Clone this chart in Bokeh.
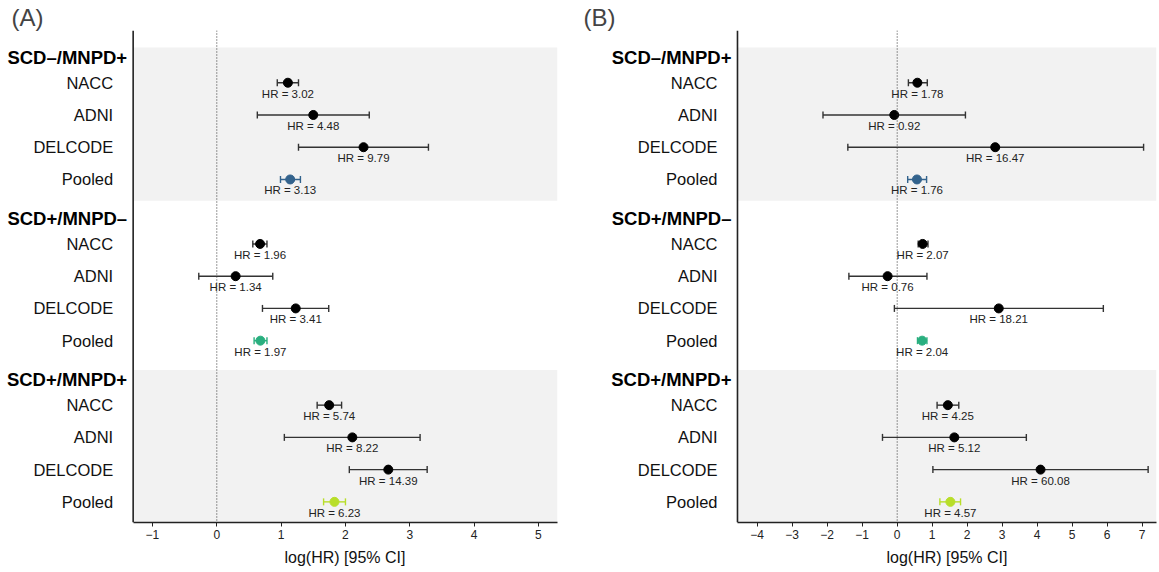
import math
from bokeh.plotting import figure
from bokeh.models import (Range1d, FixedTicker, CustomJSTickFormatter, BoxAnnotation,
                          Span, ColumnDataSource, Title)
from bokeh.layouts import row
from bokeh.embed import file_html
from bokeh.resources import INLINE
from bokeh.core.properties import value

FONT = "Liberation Sans"

groups = ["SCD–/MNPD+", "SCD+/MNPD–", "SCD+/MNPD+"]
cohorts = ["NACC", "ADNI", "DELCODE", "Pooled"]
pooled_colors = ["#33638D", "#29AF7F", "#B8DE29"]
x_title = "log(HR) [95% CI]"

# Panel A
a_hr = [3.02, 4.48, 9.79, 3.13, 1.96, 1.34, 3.41, 1.97, 5.74, 8.22, 14.39, 6.23]
a_est = [1.105, 1.500, 2.281, 1.141, 0.673, 0.293, 1.227, 0.678, 1.747, 2.107, 2.666, 1.829]
a_lo = [0.94, 0.63, 1.27, 0.99, 0.56, -0.28, 0.71, 0.58, 1.56, 1.05, 2.06, 1.66]
a_hi = [1.27, 2.37, 3.29, 1.30, 0.78, 0.87, 1.74, 0.78, 1.94, 3.16, 3.27, 2.00]
a_ticks = [-1, 0, 1, 2, 3, 4, 5]

# Panel B
b_hr = [1.78, 0.92, 16.47, 1.76, 2.07, 0.76, 18.21, 2.04, 4.25, 5.12, 60.08, 4.57]
b_est = [0.577, -0.083, 2.801, 0.565, 0.728, -0.274, 2.902, 0.713, 1.447, 1.633, 4.096, 1.520]
b_lo = [0.32, -2.12, -1.41, 0.30, 0.60, -1.38, -0.08, 0.58, 1.14, -0.42, 1.02, 1.22]
b_hi = [0.86, 1.95, 7.04, 0.84, 0.88, 0.85, 5.89, 0.85, 1.76, 3.69, 7.17, 1.81]
b_ticks = [-4, -3, -2, -1, 0, 1, 2, 3, 4, 5, 6, 7]


def make_panel(tag, hr, est, lo, hi, ticks, frame_x0, axis_x0, x1, width, br, xt_off):
    y_top, y_bot = -0.62, 14.64
    p = figure(width=width, height=572, x_range=Range1d(frame_x0, x1),
               y_range=Range1d(y_bot, y_top), output_backend="svg",
               toolbar_location=None, min_border_left=0, min_border_right=br,
               min_border_top=30, min_border_bottom=50, title=tag)
    p.outline_line_color = None
    p.grid.visible = False
    p.yaxis.visible = False
    p.background_fill_color = "white"

    p.title.text_font = FONT
    p.title.text_font_size = "24px"
    p.title.text_font_style = "normal"
    p.title.align = "left"
    p.title.offset = 11
    p.title.standoff = 0

    xa = p.xaxis[0]
    xa.bounds = (axis_x0, x1)
    xa.ticker = FixedTicker(ticks=ticks)
    xa.formatter = CustomJSTickFormatter(
        code="return tick < 0 ? '\u2212' + Math.abs(tick) : tick.toString();")
    xa.major_tick_out = 4
    xa.major_tick_in = 0
    xa.minor_tick_line_color = None
    xa.major_tick_line_color = "#222222"
    xa.axis_line_width = 1.6
    xa.axis_line_color = "#222222"
    xa.major_label_standoff = 3
    xa.major_label_text_font = FONT
    xa.major_label_text_font_size = "12px"
    xa.major_label_text_color = "#222222"

    # x-axis title, centred under the axis line (not the label area)
    t = Title(text=x_title, align="left", offset=xt_off, standoff=10,
              text_font=FONT, text_font_size="16px", text_font_style="normal",
              text_color="#111111")
    p.add_layout(t, "below")

    # shaded bands for groups 1 and 3
    for g in (0, 2):
        hdr = g * 5
        p.add_layout(BoxAnnotation(left=axis_x0, top=hdr - 0.09, bottom=hdr + 4.66,
                                   fill_color="#F2F2F2", fill_alpha=1.0,
                                   line_color=None, level="underlay"))

    # left axis line
    p.add_layout(Span(location=axis_x0, dimension="height", line_color="#222222",
                      line_width=1.6))
    # reference line at 0
    p.add_layout(Span(location=0, dimension="height", line_color="#333333",
                      line_dash="1 2", line_width=1))

    ks, cols, lcols, names, labs = [], [], [], [], []
    for i in range(len(hr)):
        g, c = divmod(i, 4)
        ks.append(g * 5 + 1 + c)
        if c == 3:
            cols.append(pooled_colors[g]); lcols.append(pooled_colors[g])
        else:
            cols.append("black"); lcols.append("#333333")
        names.append(cohorts[c])
        labs.append(f"HR = {hr[i]:.2f}")

    src = ColumnDataSource(dict(k=ks, est=est, lo=lo, hi=hi, col=cols, lcol=lcols,
                                lab=labs, name=names, lx=[axis_x0] * len(ks)))
    p.segment(x0="lo", y0="k", x1="hi", y1="k", source=src, line_color="lcol",
              line_width=1.4)
    p.scatter(x="lo", y="k", source=src, marker="dash", angle=math.pi / 2, size=7,
              line_color="lcol", line_width=1.4)
    p.scatter(x="hi", y="k", source=src, marker="dash", angle=math.pi / 2, size=7,
              line_color="lcol", line_width=1.4)
    p.scatter(x="est", y="k", source=src, size=9, fill_color="col", line_color="col")
    p.text(x="est", y="k", text="lab", source=src, text_font=value(FONT),
           text_font_size="11.5px", text_align="center", text_baseline="middle",
           y_offset=11, text_color="#222222")

    # row labels
    p.text(x="lx", y="k", text="name", source=src, x_offset=-20,
           text_align="right", text_baseline="middle",
           text_font=value(FONT), text_font_size="16.5px", text_color="#111111")

    # group headers
    hsrc = ColumnDataSource(dict(k=[g * 5 for g in range(3)], name=groups,
                                 lx=[axis_x0] * 3))
    p.text(x="lx", y="k", text="name", source=hsrc, x_offset=-6, y_offset=7,
           text_align="right", text_baseline="middle",
           text_font=value(FONT), text_font_size="18.5px",
           text_font_style="bold", text_color="black")
    return p


pa = make_panel("(A)", a_hr, a_est, a_lo, a_hi, a_ticks, -3.362, -1.30, 5.296, 572, 15, 284)
pb = make_panel("(B)", b_hr, b_est, b_lo, b_hi, b_ticks, -9.277, -4.563, 7.409, 587, 3, 314)

layout = row(pa, pb)
with open("out.html", "w", encoding="utf-8") as f:
    f.write(file_html(layout, INLINE))
